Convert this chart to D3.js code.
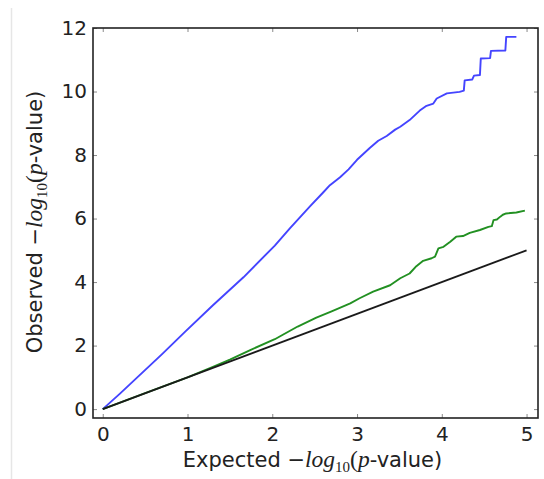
<!DOCTYPE html>
<html>
<head>
<meta charset="utf-8">
<script src="https://cdn.jsdelivr.net/npm/d3@7"></script>
<style>
  html, body { margin: 0; padding: 0; background: #fff; }
  svg { display: block; }
</style>
</head>
<body>
<svg id="chart" width="544" height="479"></svg>
<script>
// Q-Q plot of observed vs expected -log10(p-value)

const xTicks = [0, 1, 2, 3, 4, 5];
const yTicks = [0, 2, 4, 6, 8, 10, 12];

// blue series
const blueExpected = [0, 0.2, 0.42, 0.7, 0.97, 1.3, 1.66, 2.03, 2.21, 2.45, 2.6, 2.68, 2.8, 2.9, 3.0, 3.15, 3.25, 3.35, 3.45, 3.51, 3.62, 3.74, 3.82, 3.9, 3.94, 4.06, 4.21, 4.26, 4.27, 4.36, 4.38, 4.45, 4.46, 4.57, 4.58, 4.75, 4.76, 4.88];
const blueObserved = [0, 0.48, 1.03, 1.73, 2.43, 3.27, 4.15, 5.15, 5.7, 6.4, 6.82, 7.05, 7.3, 7.55, 7.85, 8.22, 8.45, 8.6, 8.8, 8.89, 9.1, 9.4, 9.55, 9.62, 9.78, 9.94, 9.99, 10.03, 10.35, 10.38, 10.5, 10.52, 11.04, 11.05, 11.28, 11.29, 11.72, 11.72];

// green series
const greenExpected = [0, 0.5, 1.0, 1.3, 1.5, 1.74, 2.03, 2.13, 2.3, 2.52, 2.7, 2.92, 3.03, 3.19, 3.39, 3.51, 3.62, 3.70, 3.78, 3.88, 3.92, 3.96, 4.02, 4.10, 4.17, 4.25, 4.33, 4.45, 4.55, 4.59, 4.61, 4.65, 4.69, 4.72, 4.76, 4.88, 4.98];
const greenObserved = [0, 0.5, 1.0, 1.33, 1.56, 1.86, 2.2, 2.35, 2.6, 2.88, 3.08, 3.33, 3.49, 3.70, 3.90, 4.12, 4.27, 4.50, 4.67, 4.75, 4.80, 5.06, 5.11, 5.27, 5.43, 5.45, 5.55, 5.64, 5.74, 5.76, 5.95, 5.97, 6.06, 6.12, 6.16, 6.19, 6.25];

// null expectation y = x
const nullExpected = [0, 5];
const nullObserved = [0, 5];

const svg = d3.select("#chart");
const frame = { left: 93, right: 538, top: 28, bottom: 418 };

const x = d3.scaleLinear().domain([-0.115, 5.135]).range([frame.left, frame.right]);
const y = d3.scaleLinear().domain([-0.28, 12]).range([frame.bottom, frame.top]);

// faint page edge on the left
svg.append("line")
  .attr("x1", 11.5).attr("x2", 11.5).attr("y1", 8).attr("y2", 479)
  .attr("stroke", "#e6e6e6").attr("stroke-width", 1.5);

const line = d3.line().x(d => x(d[0])).y(d => y(d[1]));
const zip = (a, b) => a.map((v, i) => [v, b[i]]);

const plot = svg.append("g");
plot.append("path")
  .attr("d", line(zip(blueExpected, blueObserved)))
  .attr("fill", "none").attr("stroke", "#4444ff").attr("stroke-width", 1.9)
  .attr("stroke-linejoin", "round");
plot.append("path")
  .attr("d", line(zip(greenExpected, greenObserved)))
  .attr("fill", "none").attr("stroke", "#229022").attr("stroke-width", 1.9)
  .attr("stroke-linejoin", "round");
plot.append("path")
  .attr("d", line(zip(nullExpected, nullObserved)))
  .attr("fill", "none").attr("stroke", "#1a1a1a").attr("stroke-width", 1.8);

// axes: inward ticks on all four sides
const tickLen = 4;
const axisStyle = g => {
  g.select(".domain").remove();
  g.selectAll(".tick line").attr("stroke", "#8a8a8a").attr("stroke-width", 1);
  g.selectAll(".tick text").attr("fill", "#222")
    .style("font-family", "'DejaVu Sans', sans-serif").style("font-size", "20px");
};

svg.append("g")
  .attr("transform", `translate(0,${frame.bottom})`)
  .call(d3.axisBottom(x).tickValues(xTicks).tickFormat(d3.format("d"))
    .tickSizeInner(-tickLen).tickSizeOuter(0).tickPadding(10))
  .call(axisStyle)
  .call(g => g.selectAll(".tick text").attr("dy", "0.71em").attr("y", 9));

svg.append("g")
  .attr("transform", `translate(0,${frame.top})`)
  .call(d3.axisTop(x).tickValues(xTicks).tickFormat("")
    .tickSizeInner(-tickLen).tickSizeOuter(0))
  .call(axisStyle);

svg.append("g")
  .attr("transform", `translate(${frame.left},0)`)
  .call(d3.axisLeft(y).tickValues(yTicks).tickFormat(d3.format("d"))
    .tickSizeInner(-tickLen).tickSizeOuter(0).tickPadding(10))
  .call(axisStyle)
  .call(g => g.selectAll(".tick text").attr("x", -6));

svg.append("g")
  .attr("transform", `translate(${frame.right},0)`)
  .call(d3.axisRight(y).tickValues(yTicks).tickFormat("")
    .tickSizeInner(-tickLen).tickSizeOuter(0))
  .call(axisStyle);

// frame
svg.append("rect")
  .attr("x", frame.left).attr("y", frame.top)
  .attr("width", frame.right - frame.left).attr("height", frame.bottom - frame.top)
  .attr("fill", "none").attr("stroke", "#222").attr("stroke-width", 1.6);

// axis titles with math-style -log10(p)
function mathLabel(sel, prefix) {
  const sans = "'DejaVu Sans', sans-serif";
  const serif = "'Liberation Serif', 'DejaVu Serif', serif";
  sel.attr("fill", "#222").style("font-size", "21px").style("font-family", sans);
  sel.append("tspan").text(prefix + " ");
  sel.append("tspan").text("\u2212").style("font-family", sans);
  sel.append("tspan").text("log").style("font-family", serif).style("font-style", "italic").style("font-size", "23.5px");
  sel.append("tspan").text("10").style("font-family", serif).style("font-size", "15px").attr("dy", "5");
  sel.append("tspan").text("(").style("font-family", serif).style("font-size", "23.5px").attr("dy", "-5");
  sel.append("tspan").text("p").style("font-family", serif).style("font-style", "italic").style("font-size", "23.5px");
  sel.append("tspan").text("-value)");
}

svg.append("text")
  .attr("x", 312.5).attr("y", 467)
  .attr("text-anchor", "middle")
  .call(mathLabel, "Expected");

svg.append("text")
  .attr("transform", "translate(42,222) rotate(-90)")
  .attr("text-anchor", "middle")
  .call(mathLabel, "Observed");
</script>
</body>
</html>
